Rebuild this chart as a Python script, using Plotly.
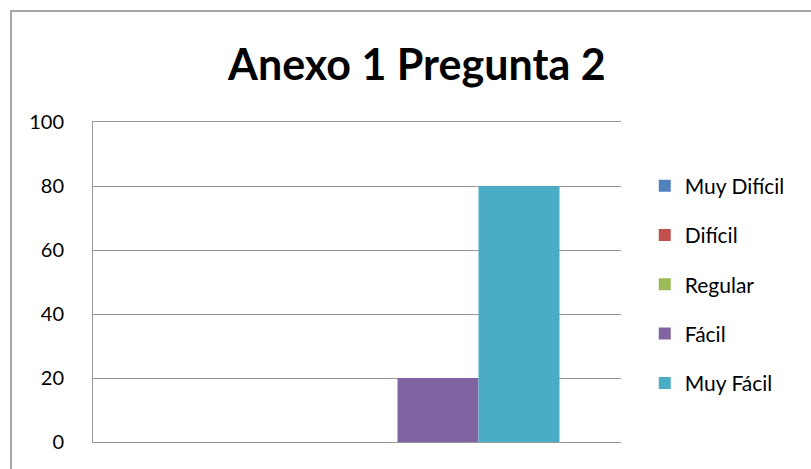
import plotly.graph_objects as go

# data
categories = ["Anexo 1 Pregunta 2"]
series_names = ["Muy Difícil", "Difícil", "Regular", "Fácil", "Muy Fácil"]
series_values = [0, 0, 0, 20, 80]
series_colors = ["#4F81BD", "#C0504D", "#9BBB59", "#8064A2", "#4BACC6"]
y_ticks = [0, 20, 40, 60, 80, 100]

FONT = "Lato"
GRID = "#979797"

fig = go.Figure()
for name, val, color in zip(series_names, series_values, series_colors):
    fig.add_trace(
        go.Bar(
            x=categories,
            y=[val],
            name=name,
            legendgroup=name,
            marker=dict(color=color, line=dict(width=0)),
        )
    )

# outer chart border (Excel style), in paper coords of the plot area
fig.add_shape(
    type="rect",
    xref="paper", yref="paper",
    x0=-0.1553, x1=1.37, y0=-0.11, y1=1.347,
    line=dict(color="#8a8a8a", width=1.5),
    fillcolor="rgba(0,0,0,0)",
    layer="below",
)

fig.update_layout(
    width=811,
    height=469,
    margin=dict(l=93, r=190, t=122, b=27),
    paper_bgcolor="white",
    plot_bgcolor="white",
    barmode="group",
    bargap=0.233,
    bargroupgap=0,
    showlegend=True,
    font=dict(family=FONT, size=21, color="#000000"),
    title=dict(
        text="<b>Anexo 1 Pregunta 2</b>",
        font=dict(family=FONT, size=43, color="#000000"),
        x=0.514, xref="container", xanchor="center",
        y=0.861, yref="container", yanchor="middle",
    ),
    legend=dict(
        x=1.045, xanchor="left",
        y=0.492, yanchor="middle",
        font=dict(family=FONT, size=21, color="#000000"),
        tracegroupgap=19,
        bgcolor="rgba(0,0,0,0)",
        traceorder="grouped",
    ),
)

# bottom line (0) and mirrored top line (100)
fig.update_xaxes(
    type="category",
    range=[-0.5, 0.5],
    showticklabels=False,
    showgrid=False,
    zeroline=False,
    showline=True,
    mirror=True,
    linecolor=GRID,
    linewidth=1,
    ticks="",
)
fig.update_yaxes(
    range=[0, 100],
    tickvals=y_ticks,
    showgrid=True,
    gridcolor=GRID,
    gridwidth=1,
    zeroline=False,
    showline=True,
    linecolor=GRID,
    linewidth=1,
    ticks="",
    ticklabelstandoff=24,
    tickfont=dict(family=FONT, size=20, color="#000000"),
)

# drop the default page margin so the chart sits at the window origin
fig.write_html(
    "out.html",
    config={"displayModeBar": False},
    post_script="document.body.style.margin='0';",
)
